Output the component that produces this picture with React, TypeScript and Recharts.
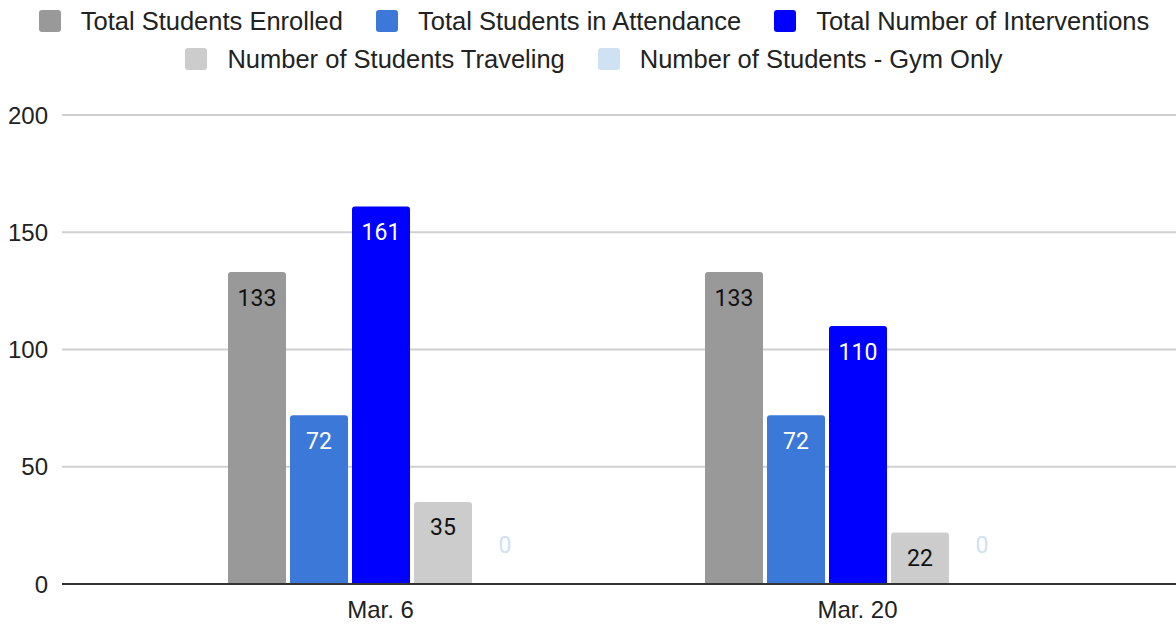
import { Bar, BarChart, CartesianGrid, LabelList, Legend, XAxis, YAxis } from "recharts";

const categories = ["Mar. 6", "Mar. 20"];
const enrolled = [133, 133];
const attendance = [72, 72];
const interventions = [161, 110];
const traveling = [35, 22];
const gymOnly = [0, 0];
const yTicks = [0, 50, 100, 150, 200];

const series = [
  { key: "enrolled", name: "Total Students Enrolled", color: "#999999", label: "#111111" },
  { key: "attendance", name: "Total Students in Attendance", color: "#3c78d8", label: "#ffffff" },
  { key: "interventions", name: "Total Number of Interventions", color: "#0000ff", label: "#ffffff" },
  { key: "traveling", name: "Number of Students Traveling", color: "#cccccc", label: "#111111" },
  { key: "gymOnly", name: "Number of Students - Gym Only", color: "#cfe2f3", label: "#cfe2f3" },
];

const data = categories.map((name, i) => ({
  name,
  enrolled: enrolled[i],
  attendance: attendance[i],
  interventions: interventions[i],
  traveling: traveling[i],
  gymOnly: gymOnly[i],
}));

const legendRows = [series.slice(0, 3), series.slice(3)];

function ChartLegend() {
  return (
    <div style={{ height: 115, paddingTop: 2, paddingLeft: 12, boxSizing: "border-box" }}>
      {legendRows.map((row, r) => (
        <div key={r} style={{ display: "flex", justifyContent: "center", alignItems: "center", height: 38, gap: 33 }}>
          {row.map((s) => (
            <div key={s.key} style={{ display: "flex", alignItems: "center" }}>
              <span style={{ width: 22, height: 22, borderRadius: 3, background: s.color, marginRight: 20, display: "inline-block" }} />
              <span style={{ fontFamily: "'Liberation Sans', Arial, sans-serif", fontSize: 25.5, color: "#222" }}>{s.name}</span>
            </div>
          ))}
        </div>
      ))}
    </div>
  );
}

const makeLabel = (color: string) => (props: any) => {
  const { x, y, width, height, value } = props;
  const isZero = Number(value) === 0;
  const cy = isZero ? y + height - 39 : y + 26;
  return (
    <text
      x={x + width / 2}
      y={cy}
      textAnchor="middle"
      dominantBaseline="central"
      fill={color}
      fontSize={23}
      fontFamily="Roboto, sans-serif"
    >
      {value}
    </text>
  );
};

export default function App() {
  return (
    <div style={{ position: "absolute", left: 0, top: 0, background: "#fff" }}>
      <BarChart
        width={1176}
        height={626}
        data={data}
        margin={{ top: 0, right: 0, bottom: 0, left: 0 }}
        barSize={58}
        barGap={4}
      >
        <CartesianGrid horizontal vertical={false} stroke="#d0d0d0" strokeWidth={2} />
        <XAxis
          dataKey="name"
          padding={{ left: 80, right: 80 }}
          tickLine={false}
          tickSize={0}
          tickMargin={17}
          axisLine={{ stroke: "#333333", strokeWidth: 2 }}
          tick={{ fill: "#222", fontSize: 24, fontFamily: "'Liberation Sans', Arial, sans-serif" }}
          height={42}
        />
        <YAxis
          domain={[0, 200]}
          ticks={yTicks}
          width={62}
          axisLine={false}
          tickLine={false}
          tickSize={0}
          tickMargin={14}
          tick={{ fill: "#222", fontSize: 24, fontFamily: "'Liberation Sans', Arial, sans-serif" }}
        />
        <Legend
          verticalAlign="top"
          content={() => <ChartLegend />}
          wrapperStyle={{ top: 0, left: 0, width: 1176 }}
        />
        {series.map((s) => (
          <Bar
            key={s.key}
            dataKey={s.key}
            name={s.name}
            fill={s.color}
            radius={[3, 3, 0, 0]}
            minPointSize={s.key === "gymOnly" ? 1 : 0}
            isAnimationActive={false}
          >
            <LabelList dataKey={s.key} content={makeLabel(s.label)} />
          </Bar>
        ))}
      </BarChart>
    </div>
  );
}
